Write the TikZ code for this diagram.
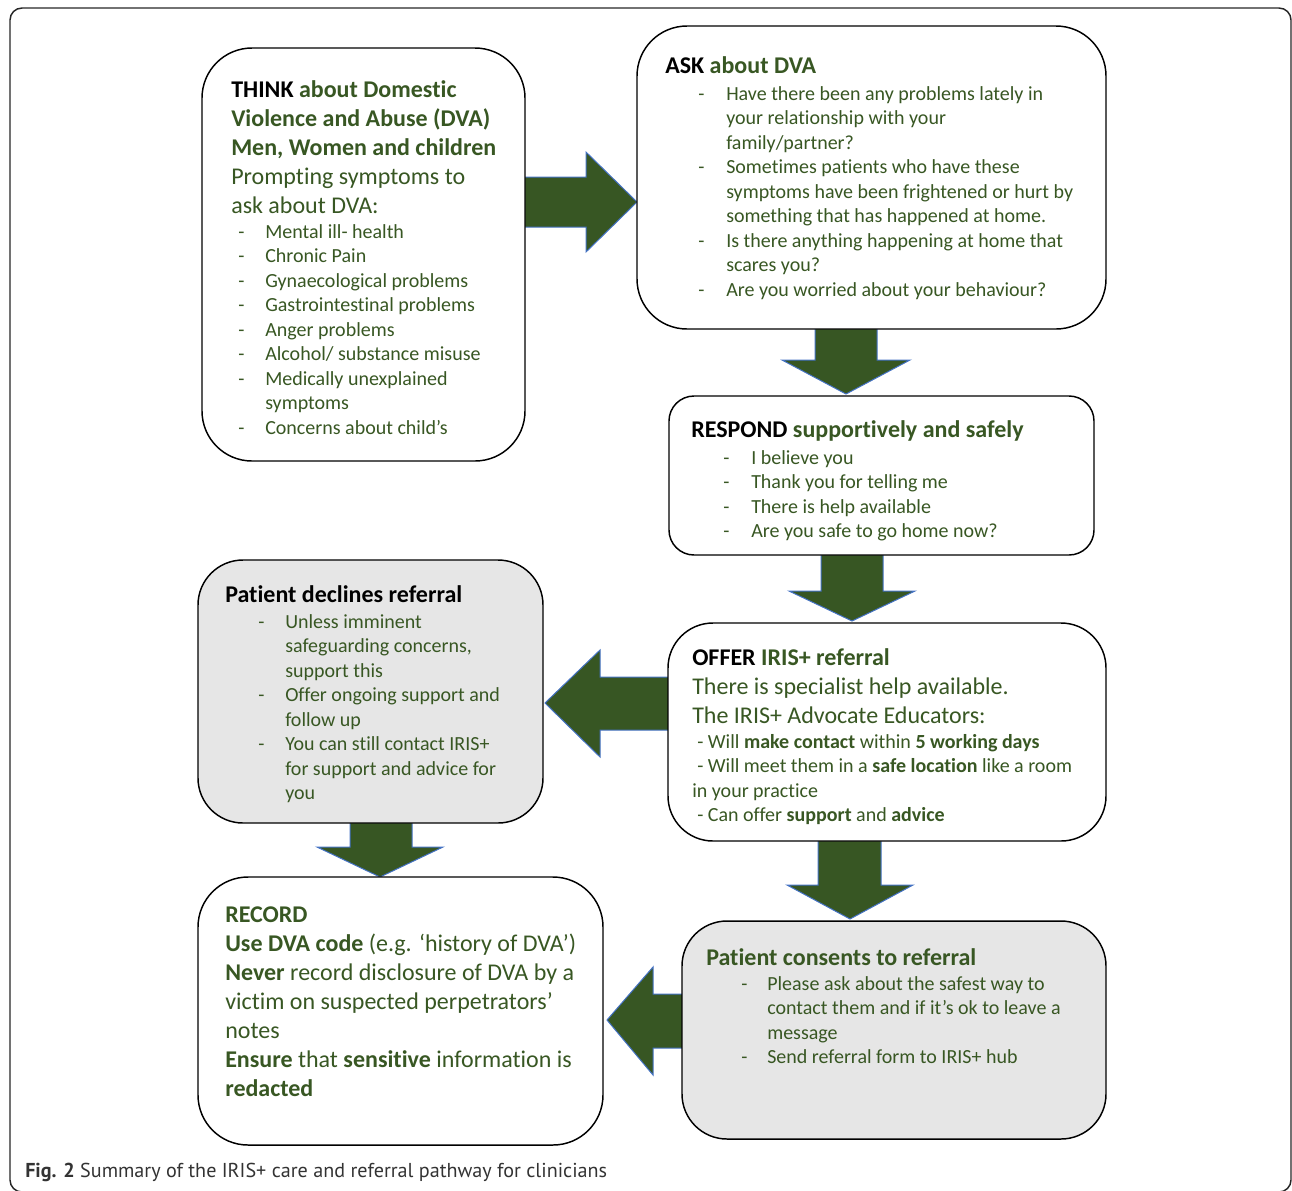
\documentclass[tikz,border=0pt]{standalone}
\usepackage{fontspec}
\setmainfont{Carlito}[Ligatures=NoCommon]
\newfontfamily\capfont{PT Sans}
\usetikzlibrary{calc}
\definecolor{dgreen}{RGB}{56,87,35}
\definecolor{agreen}{HTML}{375623}
\definecolor{ablue}{HTML}{4472C4}
\definecolor{boxgray}{HTML}{E6E6E6}
\newdimen\px \px=0.75pt
\newcommand\fbig{\fontsize{18pt}{21.75pt}\selectfont}
\newcommand\fsmall{\fontsize{15pt}{18.375pt}\selectfont}
\newcommand\topstrut{\rule{0pt}{0.8em}}
\newcommand\dsh[1]{\makebox[#1\px][l]{-}}
\newcommand\ind[1]{\hspace*{#1\px}}
\begin{document}
\begin{tikzpicture}[x=0.75pt,y=-0.75pt,
  box/.style={draw=black, line width=1.1pt, anchor=north west, inner sep=0pt, outer sep=0pt},
  wbox/.style={box, fill=white},
  gbox/.style={box, fill=boxgray},
  blk/.style={fill=agreen, draw=ablue, line width=0.75pt, line join=miter},
  bigtxt/.style={anchor=north west, inner sep=0pt, align=left, text=dgreen, font=\fbig},
  smalltxt/.style={anchor=north west, inner sep=0pt, align=left, text=dgreen, font=\fsmall}]
\useasboundingbox (0,0) rectangle (1292,1190);
% outer frame
\draw[line width=1.1pt, draw=black!85, rounded corners=12\px] (10,8) rectangle (1291,1192);

% arrows (drawn first, boxes cover their tails)
\draw[blk] (515,177) -- (586,177) -- (586,152) -- (637,202) -- (586,252) -- (586,227) -- (515,227) -- cycle;
\draw[blk] (815,320) -- (815,360) -- (782,360) -- (846,394) -- (910,360) -- (877,360) -- (877,320) -- cycle;
\draw[blk] (821,548) -- (821,591) -- (789,591) -- (852,621) -- (915,591) -- (883,591) -- (883,548) -- cycle;
\draw[blk] (680,677) -- (600,677) -- (600,650) -- (545,703) -- (600,757) -- (600,730) -- (680,730) -- cycle;
\draw[blk] (350,810) -- (350,847) -- (317,847) -- (380,877) -- (443,847) -- (412,847) -- (412,810) -- cycle;
\draw[blk] (818,835) -- (818,885) -- (787,885) -- (850,919) -- (913,885) -- (881,885) -- (881,835) -- cycle;
\draw[blk] (690,994) -- (653,994) -- (653,967) -- (607,1020) -- (653,1075) -- (653,1048) -- (690,1048) -- cycle;

% boxes
\node[wbox, minimum width=323\px, minimum height=413\px, rounded corners=50\px] (think) at (202,48) {};
\node[wbox, minimum width=469\px, minimum height=303\px, rounded corners=50\px] (ask) at (637,26) {};
\node[wbox, minimum width=425\px, minimum height=159\px, rounded corners=25\px] (respond) at (669,396) {};
\node[gbox, minimum width=345\px, minimum height=263\px, rounded corners=45\px] (declines) at (198,560) {};
\node[wbox, minimum width=438\px, minimum height=218\px, rounded corners=45\px] (offer) at (668,623) {};
\node[wbox, minimum width=405\px, minimum height=268\px, rounded corners=50\px] (record) at (198,877) {};
\node[gbox, minimum width=424\px, minimum height=218\px, rounded corners=45\px] (consents) at (682,921) {};

% THINK
\node[bigtxt] (thinkH) at (231,78) {\topstrut\textbf{\textcolor{black}{THINK} about Domestic}\\
\textbf{Violence and Abuse (DVA)}\\
\textbf{Men, Women and children}\\
Prompting symptoms to\\
ask about DVA:};
\node[smalltxt] (thinkL) at (238,222) {\topstrut\dsh{27}Mental ill- health\\
\dsh{27}Chronic Pain\\
\dsh{27}Gynaecological problems\\
\dsh{27}Gastrointestinal problems\\
\dsh{27}Anger problems\\
\dsh{27}Alcohol/ substance misuse\\
\dsh{27}Medically unexplained\\
\ind{27}symptoms\\
\dsh{27}Concerns about child’s};

% ASK
\node[bigtxt] (askH) at (665,54) {\topstrut\textbf{\textcolor{black}{ASK} about DVA}};
\node[smalltxt] (askL) at (698,84) {\topstrut\dsh{28}Have there been any problems lately in\\
\ind{28}your relationship with your\\
\ind{28}family/partner?\\
\dsh{28}Sometimes patients who have these\\
\ind{28}symptoms have been frightened or hurt by\\
\ind{28}something that has happened at home.\\
\dsh{28}Is there anything happening at home that\\
\ind{28}scares you?\\
\dsh{28}Are you worried about your behaviour?};

% RESPOND
\node[bigtxt] (respH) at (691,418) {\topstrut\textbf{\textcolor{black}{RESPOND} supportively and safely}};
\node[smalltxt] (respL) at (723,448) {\topstrut\dsh{28}I believe you\\
\dsh{28}Thank you for telling me\\
\dsh{28}There is help available\\
\dsh{28}Are you safe to go home now?};

% DECLINES
\node[bigtxt, text=black] (decH) at (225,583) {\topstrut\textbf{Patient declines referral}};
\node[smalltxt] (decL) at (258,612) {\topstrut\dsh{27}Unless imminent\\
\ind{27}safeguarding concerns,\\
\ind{27}support this\\
\dsh{27}Offer ongoing support and\\
\ind{27}follow up\\
\dsh{27}You can still contact IRIS+\\
\ind{27}for support and advice for\\
\ind{27}you};

% OFFER
\node[bigtxt] (offH) at (692,646) {\topstrut\textbf{\textcolor{black}{OFFER} IRIS+ referral}\\
There is specialist help available.\\
The IRIS+ Advocate Educators:};
\node[smalltxt] (offL) at (692,732) {\topstrut\ind{5}- Will \textbf{make contact} within \textbf{5 working days}\\
\ind{5}- Will meet them in a \textbf{safe location} like a room\\
in your practice\\
\ind{5}- Can offer \textbf{support} and \textbf{advice}};

% CONSENTS
\node[bigtxt] (conH) at (706,946) {\topstrut\textbf{Patient consents to referral}};
\node[smalltxt] (conL) at (741,974) {\topstrut\dsh{26}Please ask about the safest way to\\
\ind{26}contact them and if it’s ok to leave a\\
\ind{26}message\\
\dsh{26}Send referral form to IRIS+ hub};

% RECORD
\node[bigtxt] (recH) at (225,903) {\topstrut\textbf{RECORD}\\
\textbf{Use DVA code} (e.g. ‘history of DVA’)\\
\textbf{Never} record disclosure of DVA by a\\
victim on suspected perpetrators’\\
notes\\
\textbf{Ensure} that \textbf{sensitive} information is\\
\textbf{redacted}};

% caption
\node[anchor=base west, inner sep=0pt, text=black!80, font=\capfont\fontsize{15.1pt}{18pt}\selectfont] (cap) at (25,1177) {\textbf{Fig. 2} Summary of the IRIS+ care and referral pathway for clinicians};
\end{tikzpicture}
\end{document}
